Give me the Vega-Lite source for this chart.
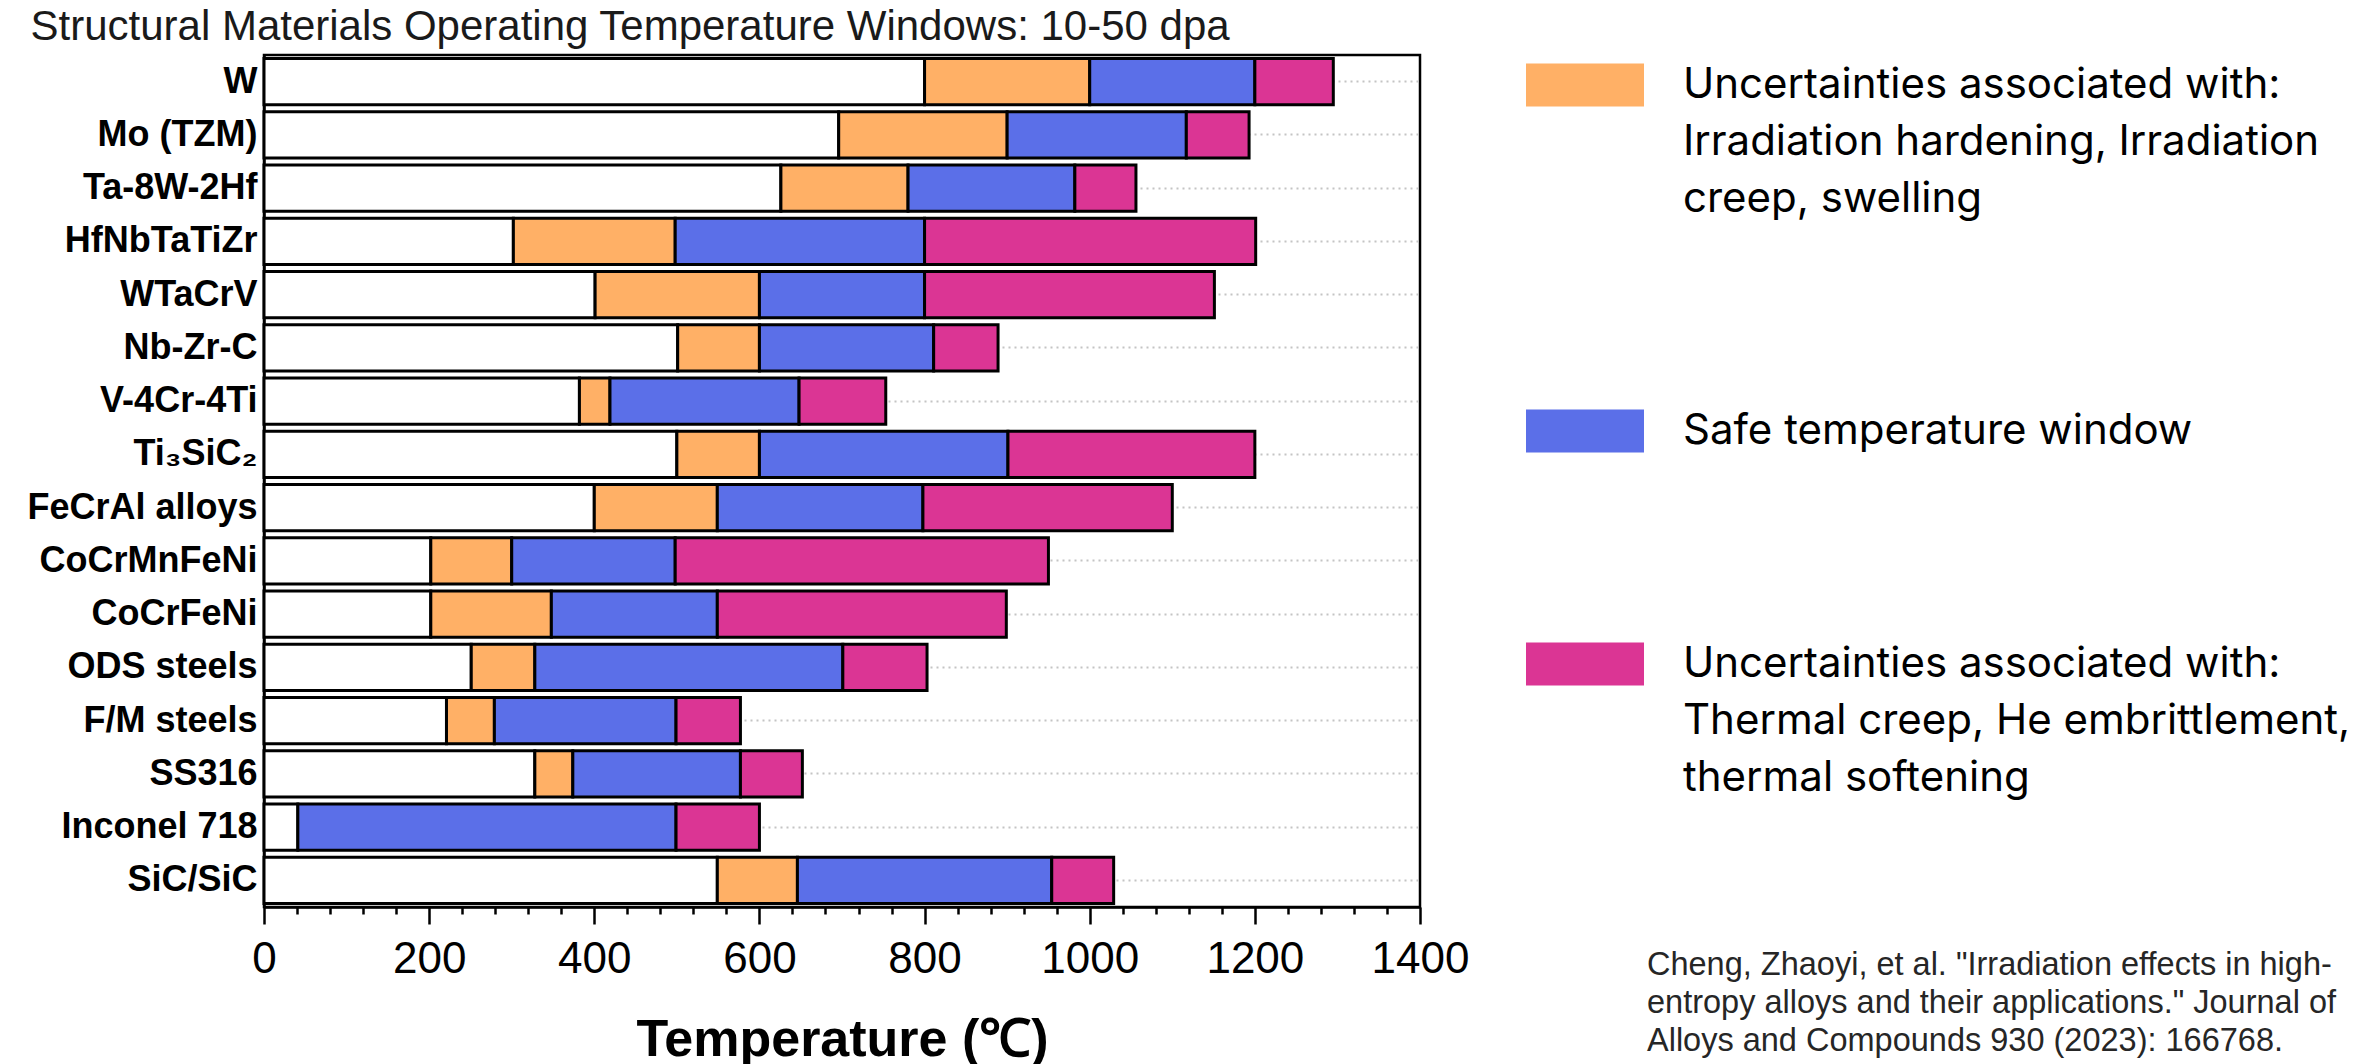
{
  "$schema": "https://vega.github.io/schema/vega-lite/v6.json",
  "width": 1156,
  "height": 852,
  "autosize": {"type": "none"},
  "padding": {"left": 264, "top": 55, "right": 949, "bottom": 157},
  "background": "white",
  "config": {
    "view": {"stroke": "#000", "strokeWidth": 2.5},
    "font": "Liberation Sans",
    "style": {"guide-label": {"lineHeight": 57}}
  },
  "title": {
    "text": ["Cheng, Zhaoyi, et al. \"Irradiation effects in high-", "entropy alloys and their applications.\" Journal of", "Alloys and Compounds 930 (2023): 166768."],
    "orient": "top",
    "anchor": "start",
    "frame": "group",
    "baseline": "top",
    "offset": 0,
    "dx": 1383,
    "dy": 1052,
    "font": "Liberation Sans",
    "fontSize": 32.5,
    "fontWeight": "normal",
    "color": "#262626",
    "lineHeight": 38
  },
  "data": {
    "values": [
      {"material": "W", "segment": "base", "start": 0, "end": 800},
      {"material": "W", "segment": "irr", "start": 800, "end": 1000},
      {"material": "W", "segment": "safe", "start": 1000, "end": 1200},
      {"material": "W", "segment": "thermal", "start": 1200, "end": 1295},
      {"material": "Mo (TZM)", "segment": "base", "start": 0, "end": 696},
      {"material": "Mo (TZM)", "segment": "irr", "start": 696, "end": 900},
      {"material": "Mo (TZM)", "segment": "safe", "start": 900, "end": 1117},
      {"material": "Mo (TZM)", "segment": "thermal", "start": 1117, "end": 1193},
      {"material": "Ta-8W-2Hf", "segment": "base", "start": 0, "end": 626},
      {"material": "Ta-8W-2Hf", "segment": "irr", "start": 626, "end": 780},
      {"material": "Ta-8W-2Hf", "segment": "safe", "start": 780, "end": 982},
      {"material": "Ta-8W-2Hf", "segment": "thermal", "start": 982, "end": 1056},
      {"material": "HfNbTaTiZr", "segment": "base", "start": 0, "end": 302},
      {"material": "HfNbTaTiZr", "segment": "irr", "start": 302, "end": 498},
      {"material": "HfNbTaTiZr", "segment": "safe", "start": 498, "end": 800},
      {"material": "HfNbTaTiZr", "segment": "thermal", "start": 800, "end": 1201},
      {"material": "WTaCrV", "segment": "base", "start": 0, "end": 401},
      {"material": "WTaCrV", "segment": "irr", "start": 401, "end": 600},
      {"material": "WTaCrV", "segment": "safe", "start": 600, "end": 800},
      {"material": "WTaCrV", "segment": "thermal", "start": 800, "end": 1151},
      {"material": "Nb-Zr-C", "segment": "base", "start": 0, "end": 501},
      {"material": "Nb-Zr-C", "segment": "irr", "start": 501, "end": 600},
      {"material": "Nb-Zr-C", "segment": "safe", "start": 600, "end": 811},
      {"material": "Nb-Zr-C", "segment": "thermal", "start": 811, "end": 889},
      {"material": "V-4Cr-4Ti", "segment": "base", "start": 0, "end": 382},
      {"material": "V-4Cr-4Ti", "segment": "irr", "start": 382, "end": 419},
      {"material": "V-4Cr-4Ti", "segment": "safe", "start": 419, "end": 648},
      {"material": "V-4Cr-4Ti", "segment": "thermal", "start": 648, "end": 753},
      {"material": "Ti₃SiC₂", "segment": "base", "start": 0, "end": 500},
      {"material": "Ti₃SiC₂", "segment": "irr", "start": 500, "end": 600},
      {"material": "Ti₃SiC₂", "segment": "safe", "start": 600, "end": 901},
      {"material": "Ti₃SiC₂", "segment": "thermal", "start": 901, "end": 1200},
      {"material": "FeCrAl alloys", "segment": "base", "start": 0, "end": 400},
      {"material": "FeCrAl alloys", "segment": "irr", "start": 400, "end": 549},
      {"material": "FeCrAl alloys", "segment": "safe", "start": 549, "end": 798},
      {"material": "FeCrAl alloys", "segment": "thermal", "start": 798, "end": 1100},
      {"material": "CoCrMnFeNi", "segment": "base", "start": 0, "end": 202},
      {"material": "CoCrMnFeNi", "segment": "irr", "start": 202, "end": 300},
      {"material": "CoCrMnFeNi", "segment": "safe", "start": 300, "end": 498},
      {"material": "CoCrMnFeNi", "segment": "thermal", "start": 498, "end": 950},
      {"material": "CoCrFeNi", "segment": "base", "start": 0, "end": 202},
      {"material": "CoCrFeNi", "segment": "irr", "start": 202, "end": 348},
      {"material": "CoCrFeNi", "segment": "safe", "start": 348, "end": 549},
      {"material": "CoCrFeNi", "segment": "thermal", "start": 549, "end": 899},
      {"material": "ODS steels", "segment": "base", "start": 0, "end": 251},
      {"material": "ODS steels", "segment": "irr", "start": 251, "end": 328},
      {"material": "ODS steels", "segment": "safe", "start": 328, "end": 701},
      {"material": "ODS steels", "segment": "thermal", "start": 701, "end": 803},
      {"material": "F/M steels", "segment": "base", "start": 0, "end": 221},
      {"material": "F/M steels", "segment": "irr", "start": 221, "end": 279},
      {"material": "F/M steels", "segment": "safe", "start": 279, "end": 499},
      {"material": "F/M steels", "segment": "thermal", "start": 499, "end": 577},
      {"material": "SS316", "segment": "base", "start": 0, "end": 328},
      {"material": "SS316", "segment": "irr", "start": 328, "end": 374},
      {"material": "SS316", "segment": "safe", "start": 374, "end": 577},
      {"material": "SS316", "segment": "thermal", "start": 577, "end": 652},
      {"material": "Inconel 718", "segment": "base", "start": 0, "end": 41},
      {"material": "Inconel 718", "segment": "safe", "start": 41, "end": 499},
      {"material": "Inconel 718", "segment": "thermal", "start": 499, "end": 600},
      {"material": "SiC/SiC", "segment": "base", "start": 0, "end": 549},
      {"material": "SiC/SiC", "segment": "irr", "start": 549, "end": 646},
      {"material": "SiC/SiC", "segment": "safe", "start": 646, "end": 954},
      {"material": "SiC/SiC", "segment": "thermal", "start": 954, "end": 1029}
    ]
  },
  "mark": {"type": "bar", "stroke": "#000", "strokeWidth": 3, "opacity": 1},
  "encoding": {
    "y": {
      "field": "material",
      "type": "nominal",
      "sort": ["W", "Mo (TZM)", "Ta-8W-2Hf", "HfNbTaTiZr", "WTaCrV", "Nb-Zr-C", "V-4Cr-4Ti", "Ti₃SiC₂", "FeCrAl alloys", "CoCrMnFeNi", "CoCrFeNi", "ODS steels", "F/M steels", "SS316", "Inconel 718", "SiC/SiC"],
      "scale": {"paddingInner": 0.13, "paddingOuter": 0.065},
      "axis": {
        "title": "Structural Materials Operating Temperature Windows: 10-50 dpa",
        "titleAngle": 0,
        "titleAlign": "left",
        "titleBaseline": "alphabetic",
        "titleX": -234,
        "titleY": -16,
        "titleFont": "Liberation Sans",
        "titleFontSize": 42,
        "titleFontWeight": "normal",
        "titleColor": "#1a1a1a",
        "labelFont": "Liberation Sans",
        "labelFontWeight": "bold",
        "labelFontSize": 36,
        "labelColor": "#000",
        "labelLimit": 300,
        "labelPadding": 7,
        "ticks": false,
        "domainColor": "#000",
        "domainWidth": 2.5,
        "grid": true,
        "gridDash": [2, 4],
        "gridColor": "#c4c4c4",
        "gridWidth": 2
      }
    },
    "x": {
      "field": "start",
      "type": "quantitative",
      "scale": {"domain": [0, 1400], "nice": false, "zero": true},
      "axis": {
        "title": "Temperature (℃)",
        "titleFont": "Liberation Sans",
        "titleFontSize": 52,
        "titleFontWeight": "bold",
        "titleColor": "#000",
        "titleBaseline": "alphabetic",
        "titleY": 148,
        "values": [0, 40, 80, 120, 160, 200, 240, 280, 320, 360, 400, 440, 480, 520, 560, 600, 640, 680, 720, 760, 800, 840, 880, 920, 960, 1000, 1040, 1080, 1120, 1160, 1200, 1240, 1280, 1320, 1360, 1400],
        "labelExpr": "datum.value % 200 == 0 ? datum.label : ''",
        "format": "d",
        "labelFont": "Liberation Sans",
        "labelFontSize": 44,
        "labelColor": "#000",
        "labelPadding": 13,
        "labelFlush": false,
        "labelOverlap": false,
        "tickSize": {"condition": {"test": "datum.value % 200 == 0", "value": 17}, "value": 7},
        "tickColor": "#000",
        "tickWidth": 2.5,
        "domainColor": "#000",
        "domainWidth": 2.5,
        "grid": false
      }
    },
    "x2": {"field": "end"},
    "color": {
      "field": "segment",
      "type": "nominal",
      "scale": {"domain": ["base", "irr", "safe", "thermal"], "range": ["#ffffff", "#FFB066", "#5B6FE8", "#DB3594"]},
      "legend": {
        "orient": "none",
        "legendX": 1262,
        "legendY": -29,
        "direction": "vertical",
        "title": null,
        "padding": 0,
        "values": ["irr", "safe", "thermal"],
        "symbolType": "M-1,-0.3644H1V0.3644H-1Z",
        "symbolSize": 13924,
        "symbolStrokeWidth": 0,
        "symbolOpacity": 1,
        "labelFont": "Inter",
        "labelFontSize": 42,
        "labelColor": "#000",
        "labelLimit": 1000,
        "labelOffset": 39,
        "labelBaseline": "middle",
        "labelExpr": "datum.value == 'irr' ? ['Uncertainties associated with:', 'Irradiation hardening, Irradiation', 'creep, swelling'] : datum.value == 'safe' ? 'Safe temperature window' : ['Uncertainties associated with:', 'Thermal creep, He embrittlement,', 'thermal softening']",
        "rowPadding": 152
      }
    }
  }
}
